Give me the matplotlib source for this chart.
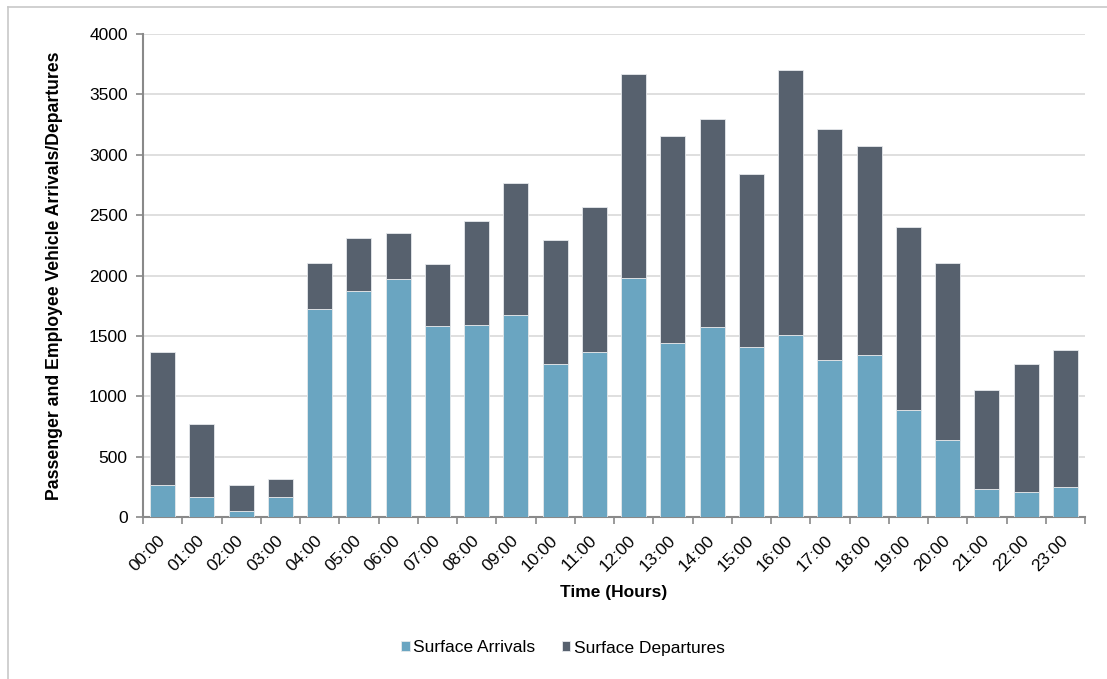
import matplotlib
matplotlib.use("Agg")
import matplotlib.pyplot as plt
from matplotlib.lines import Line2D

plt.rcParams['font.family'] = ['Liberation Sans', 'DejaVu Sans']

hours = [f"{h:02d}:00" for h in range(24)]
arrivals = [265, 165, 50, 165, 1722, 1870, 1970, 1580, 1590, 1670, 1265, 1365,
            1980, 1440, 1575, 1405, 1510, 1300, 1340, 885, 635, 230, 210, 245]
totals = [1370, 770, 265, 315, 2100, 2310, 2355, 2095, 2455, 2770, 2295, 2570,
          3670, 3155, 3295, 2840, 3700, 3215, 3070, 2405, 2100, 1055, 1270, 1380]
departures = [t - a for t, a in zip(totals, arrivals)]

c_arr = '#6AA5C1'
c_dep = '#57616E'
fs = 12.5

fig = plt.figure(figsize=(11.07, 6.79), dpi=100)
ax = fig.add_axes([143 / 1107, 1 - 517 / 679, (1085 - 143) / 1107, (517 - 34) / 679])

x = range(len(hours))
w = 0.64
ax.bar(x, arrivals, width=w, color=c_arr, edgecolor='#E6E9EC', linewidth=0.6,
       label='Surface Arrivals', zorder=3)
ax.bar(x, departures, width=w, bottom=arrivals, color=c_dep, edgecolor='#E6E9EC',
       linewidth=0.6, label='Surface Departures', zorder=3)

ax.set_xlim(-0.5, len(hours) - 0.5)
ax.set_ylim(0, 4000)
ax.set_yticks(range(0, 4001, 500))
ax.yaxis.grid(True, color='#D9D9D9', linewidth=1.2, zorder=0)
ax.set_axisbelow(True)

ax.set_xticks(list(x))
ax.set_xticklabels(hours, rotation=45, ha='right', va='center',
                   rotation_mode='anchor', fontsize=fs)
ax.set_xticks([i - 0.5 for i in range(len(hours) + 1)], minor=True)
ax.tick_params(axis='x', which='major', length=0, pad=15)
ax.tick_params(axis='x', which='minor', length=5, color='#898989', width=1.2)
ax.tick_params(axis='y', length=5, color='#898989', width=1.2, labelsize=fs, pad=6)

for s in ['top', 'right']:
    ax.spines[s].set_visible(False)
for s in ['left', 'bottom']:
    ax.spines[s].set_color('#898989')
    ax.spines[s].set_linewidth(1.5)

ax.set_xlabel('Time (Hours)', fontsize=fs, fontweight='bold', labelpad=8)
ax.set_ylabel('Passenger and Employee Vehicle Arrivals/Departures', fontsize=12.7,
              fontweight='bold', labelpad=19)

fig.legend(loc='center', bbox_to_anchor=(563 / 1107, 1 - 648 / 679), ncol=2,
           frameon=False, fontsize=fs, handlelength=0.5, handleheight=0.5,
           handletextpad=0.2, columnspacing=1.5)

# thin frame along the top and left edges of the chart area
frame_kw = dict(transform=fig.transFigure, color='#C8C8C8', linewidth=1.2)
fig.lines.append(Line2D([8 / 1107, 1], [1 - 7 / 679, 1 - 7 / 679], **frame_kw))
fig.lines.append(Line2D([8 / 1107, 8 / 1107], [0, 1 - 7 / 679], **frame_kw))

fig.savefig('out.png', dpi=100)
